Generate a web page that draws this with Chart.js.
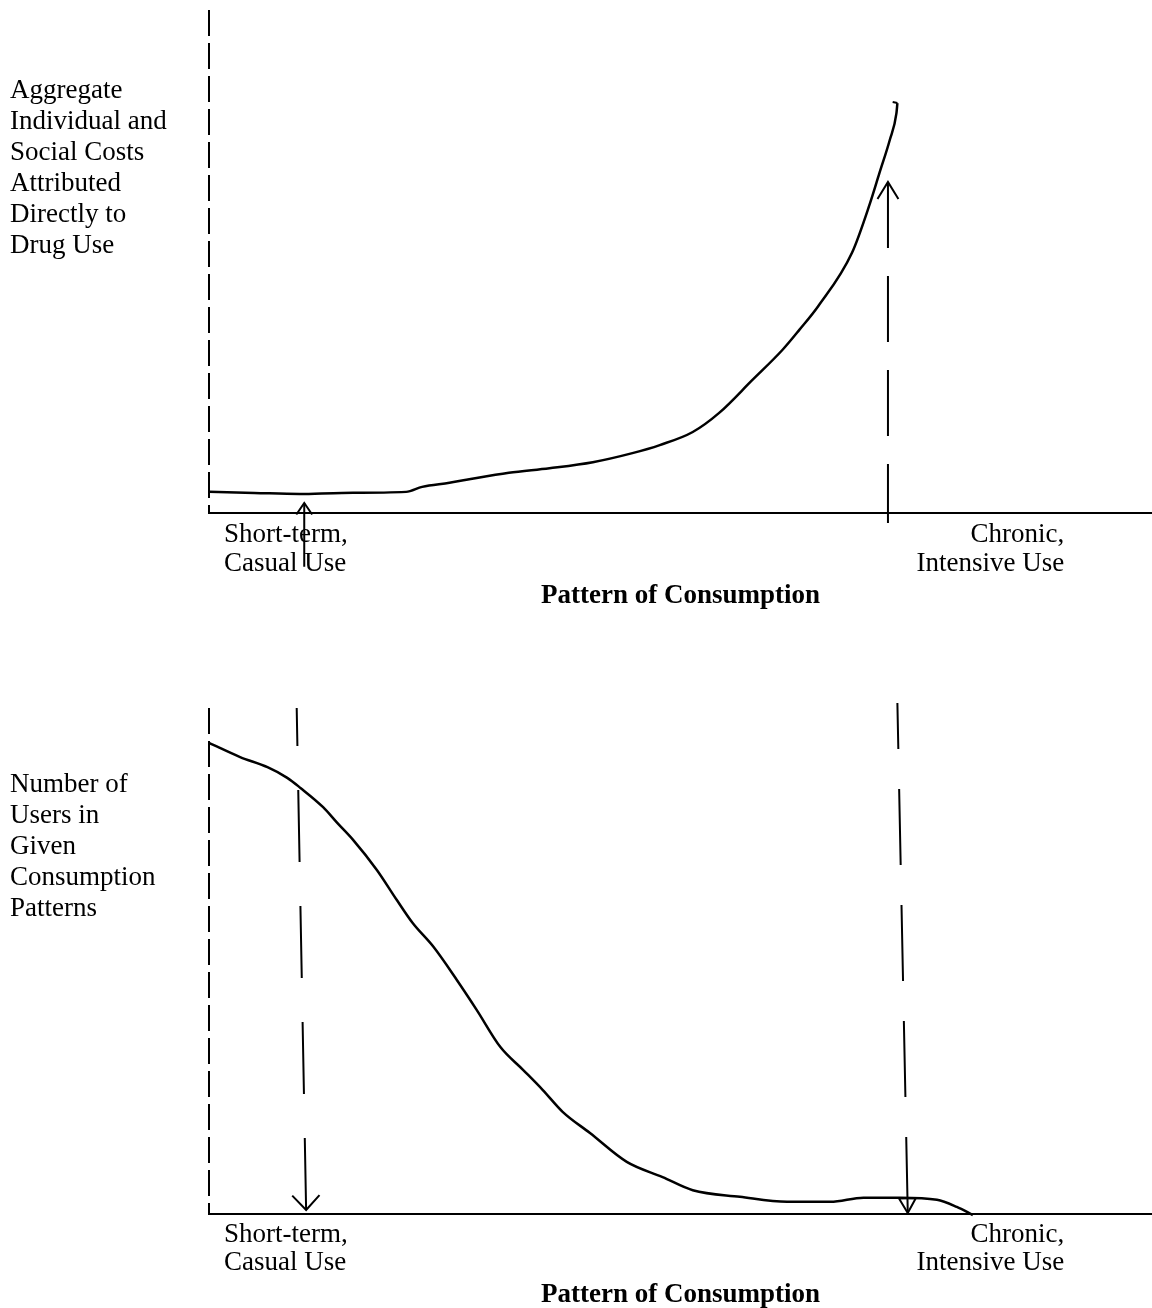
<!DOCTYPE html>
<html>
<head>
<meta charset="utf-8">
<title>Pattern of Consumption</title>
<script src="https://cdn.jsdelivr.net/npm/chart.js@4.4.1/dist/chart.umd.min.js"></script>
<style>
    html, body { margin: 0; padding: 0; background: #fff; }
    body {
        position: relative;
        width: 1152px;
        height: 1308px;
        overflow: hidden;
        font-family: 'Liberation Serif', 'Times New Roman', serif;
        color: #000;
    }
    canvas { position: absolute; left: 0; }
    #costChart { top: 0; }
    #usersChart { top: 650px; }
    .y-label {
        position: absolute;
        left: 10px;
        font-size: 27px;
        line-height: 31px;
    }
</style>
</head>
<body>
<canvas id="costChart" width="1152" height="650"></canvas>
<canvas id="usersChart" width="1152" height="658"></canvas>
<div class="y-label" style="top: 74px;">Aggregate<br>Individual and<br>Social Costs<br>Attributed<br>Directly to<br>Drug Use</div>
<div class="y-label" style="top: 768px;">Number of<br>Users in<br>Given<br>Consumption<br>Patterns</div>

<script>
// ============================================
// Data (x = pattern of consumption 0..100, y = 0..100)
// ============================================

// tick labels at both ends of the consumption axis
const tickValues = [1.6, 90.7];
const tickLabels = [['Short-term,', 'Casual Use'], ['Chronic,', 'Intensive Use']];
const axisTitle = 'Pattern of Consumption';

// top: aggregate costs curve
const costX = [0, 4.8, 9.6, 14.1, 20.9, 22.6, 25.5, 27.3, 31.8, 36.1, 40.7, 44.9, 47.8,
    51.3, 54.1, 57.6, 60.8, 62.6, 64.6, 68.2, 70.1, 71.1, 72.2, 72.9, 73.0];
const costY = [4.2, 4.0, 3.8, 4.0, 4.2, 5.2, 6.0, 6.6, 8.0, 8.9, 10.1, 11.9, 13.5,
    16.1, 19.9, 26.4, 32.4, 36.4, 41.1, 51.8, 61.6, 67.6, 74.2, 79.5, 81.5];
// small hook at the top end of the pen stroke
const costHookX = [73.0, 72.5];
const costHookY = [81.5, 81.7];

// top: arrows (tip first, then tail)
const costArrowX = [10.1, 72.0];
const costArrowTip = [2.0, 65.8];
const costArrowTail = [-10.7, -2.0];

// bottom: number of users curve
const usersX = [0, 3.3, 6.2, 8.3, 9.7, 12.1, 13.6, 15.3, 17.8, 19.9, 21.6, 23.8, 26.3, 28.4,
    30.9, 33.3, 35.4, 37.5, 40.4, 44.3, 48.1, 51.3, 56.3, 61.3, 65.9, 69.4, 73.3, 77.2, 79.3, 81.0];
const usersY = [93.1, 90.3, 88.3, 86.2, 84.2, 80.4, 77.3, 73.9, 68.0, 62.1, 57.5, 52.8, 46.2, 40.3,
    33.0, 28.5, 24.5, 20.2, 16.0, 10.3, 7.3, 4.7, 3.4, 2.4, 2.4, 3.2, 3.2, 2.8, 1.4, -0.2];

// bottom: arrows (tip first, then tail)
const usersArrowTipX = [10.3, 74.1];
const usersArrowTailX = [9.3, 73.0];
const usersArrowTip = [0.8, 0.2];
const usersArrowTail = [100, 101];

const FONT = "'Liberation Serif', 'Times New Roman', serif";

function toPoints(xs, ys) {
    return xs.map((x, i) => ({ x: x, y: ys[i] }));
}

// arrow heads drawn at the first point of a dataset
const arrowHeads = {
    id: 'arrowHeads',
    afterDatasetsDraw(chart) {
        const ctx = chart.ctx;
        chart.data.datasets.forEach((ds, i) => {
            if (!ds.arrowHead) return;
            const pts = chart.getDatasetMeta(i).data;
            const tip = pts[0];
            const prev = pts[1];
            const ang = Math.atan2(tip.y - prev.y, tip.x - prev.x);
            const len = ds.arrowHead.length;
            const spread = ds.arrowHead.spread;
            ctx.save();
            ctx.strokeStyle = '#000';
            ctx.lineWidth = ds.borderWidth;
            ctx.setLineDash([]);
            ctx.beginPath();
            ctx.moveTo(tip.x - len * Math.cos(ang - spread), tip.y - len * Math.sin(ang - spread));
            ctx.lineTo(tip.x, tip.y);
            ctx.lineTo(tip.x - len * Math.cos(ang + spread), tip.y - len * Math.sin(ang + spread));
            if (ds.arrowHead.closed) ctx.closePath();
            ctx.stroke();
            ctx.restore();
        });
    }
};

function lineSet(data, extra) {
    return Object.assign({
        data: data,
        borderColor: '#000',
        borderWidth: 2,
        pointRadius: 0,
        fill: false,
        clip: false,
        tension: 0
    }, extra);
}

function makeOptions(padTop, axisHeight, tickPad, titlePad) {
    return {
        responsive: false,
        animation: false,
        events: [],
        layout: { padding: { left: 209, right: 0, top: padTop, bottom: 0 } },
        plugins: {
            legend: { display: false },
            tooltip: { enabled: false }
        },
        scales: {
            x: {
                type: 'linear',
                min: 0,
                max: 100,
                grid: { display: false },
                border: { display: true, color: '#000', width: 2 },
                afterBuildTicks: function (scale) {
                    scale.ticks = tickValues.map(v => ({ value: v }));
                },
                afterFit: function (scale) {
                    scale.height = axisHeight;
                },
                ticks: {
                    autoSkip: false,
                    maxRotation: 0,
                    minRotation: 0,
                    align: 'inner',
                    padding: tickPad,
                    color: '#000',
                    font: { family: FONT, size: 27, lineHeight: 1.055 },
                    callback: function (value, index) {
                        return tickLabels[index];
                    }
                },
                title: {
                    display: true,
                    text: axisTitle,
                    color: '#000',
                    font: { family: FONT, size: 27, weight: 'bold' },
                    padding: { top: 0, bottom: titlePad }
                }
            },
            y: {
                display: false,
                min: 0,
                max: 100
            }
        }
    };
}

document.addEventListener('DOMContentLoaded', function () {
    // 上圖: costs attributed to drug use
    const costCanvas = document.getElementById('costChart');
    if (costCanvas) {
        new Chart(costCanvas, {
            type: 'line',
            data: {
                datasets: [
                    lineSet([{ x: 0, y: 100 }, { x: 0, y: 0 }], { borderDash: [26, 7] }),
                    lineSet(toPoints(costX, costY), { borderWidth: 2.5, cubicInterpolationMode: 'monotone' }),
                    lineSet(toPoints(costHookX, costHookY), { borderWidth: 2 }),
                    lineSet([{ x: costArrowX[0], y: costArrowTip[0] }, { x: costArrowX[0], y: costArrowTail[0] }],
                        { arrowHead: { length: 14, spread: 0.6 } }),
                    lineSet([{ x: costArrowX[1], y: costArrowTip[1] }, { x: costArrowX[1], y: costArrowTail[1] }],
                        { borderDash: [66, 28], arrowHead: { length: 20, spread: 0.55 } })
                ]
            },
            options: makeOptions(10, 137, 0, 38),
            plugins: [arrowHeads]
        });
    }

    // 下圖: number of users by consumption pattern
    const usersCanvas = document.getElementById('usersChart');
    if (usersCanvas) {
        new Chart(usersCanvas, {
            type: 'line',
            data: {
                datasets: [
                    lineSet([{ x: 0, y: 100 }, { x: 0, y: 0 }], { borderDash: [26, 7] }),
                    lineSet(toPoints(usersX, usersY), { borderWidth: 2.5, cubicInterpolationMode: 'monotone' }),
                    lineSet([{ x: usersArrowTipX[0], y: usersArrowTip[0] }, { x: usersArrowTailX[0], y: usersArrowTail[0] }],
                        { borderDash: [72, 44], arrowHead: { length: 20, spread: 0.75 } }),
                    lineSet([{ x: usersArrowTipX[1], y: usersArrowTip[1] }, { x: usersArrowTailX[1], y: usersArrowTail[1] }],
                        { borderDash: [76, 40], arrowHead: { length: 17, spread: 0.52, closed: true } })
                ]
            },
            options: makeOptions(58, 94, -1.5, -3),
            plugins: [arrowHeads]
        });
    }
});
</script>
</body>
</html>
